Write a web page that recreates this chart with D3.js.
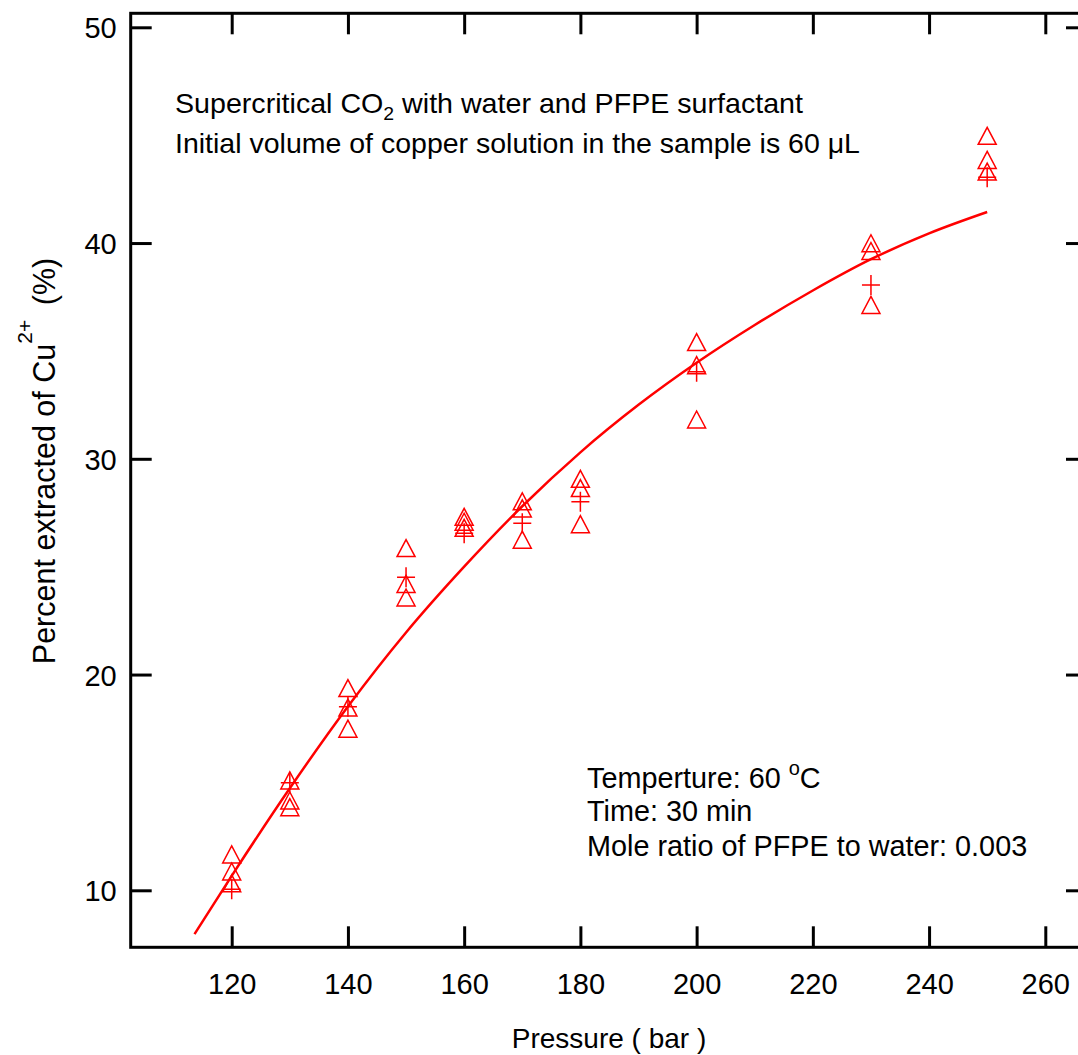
<!DOCTYPE html>
<html>
<head>
<meta charset="utf-8">
<script src="https://cdn.jsdelivr.net/npm/d3@7"></script>
<style>
    body { margin: 0; background: #fff; }
    svg { display: block; font-family: "Liberation Sans", Arial, sans-serif; }
</style>
</head>
<body>
<div id="chart"></div>
<script>
// measured pressures (bar)
var pressures = [120, 130, 140, 150, 160, 170, 180, 200, 230, 250];
// three repeat runs per pressure (triangles)
var runA = [11.53, 14.96, 19.24, 25.73, 27.18, 27.90, 28.94, 35.28, 39.86, 44.84];
var runB = [10.74, 14.03, 18.34, 24.07, 26.95, 27.57, 28.51, 34.21, 39.50, 43.72];
var runC = [10.19, 13.72, 17.36, 23.44, 26.67, 26.12, 26.84, 31.69, 37.00, 43.18];
// second marker set (plus)
var plusValues = [10.05, 14.99, 18.51, 24.51, 26.55, 27.01, 28.01, 34.04, 38.06, 43.05];
// fitted curve
var fitPressure = [113.6, 120, 130, 140, 150, 160, 170, 180, 190, 200, 210, 220, 230, 240, 250];
var fitValue = [7.97, 10.67, 14.73, 18.52, 21.95, 25.00, 27.80, 30.30, 32.50, 34.45, 36.20, 37.80, 39.25, 40.45, 41.44];

var xTicks = [120, 140, 160, 180, 200, 220, 240, 260];
var yTicks = [10, 20, 30, 40, 50];

function ExtractionChart(container){
    this.container = container;
    this.svg = null;
    this.width = 1078;
    this.height = 1055;
    this.frame = { left: 130.7, right: 1087, top: 13.3, bottom: 947.3 };
    this.axis = {};
    this.red = "#ff0000";
}

ExtractionChart.prototype = {
    constructor: ExtractionChart,

    triangle: function(){
        // apex up, centroid on the data point
        var h = 17, w = 18;
        return "M0," + (-2 * h / 3) + "L" + (w / 2) + "," + (h / 3) + "L" + (-w / 2) + "," + (h / 3) + "Z";
    },

    init: function(){
        var self = this, f = self.frame;

        self.axis.x = d3.scaleLinear().domain([120, 260]).range([231.7, 1045.3]);
        self.axis.y = d3.scaleLinear().domain([10, 50]).range([890.3, 27.3]);

        self.svg = d3.select(self.container).append("svg")
            .attr("width", self.width)
            .attr("height", self.height);

        // frame
        self.svg.append("rect")
            .attr("x", f.left).attr("y", f.top)
            .attr("width", f.right - f.left).attr("height", f.bottom - f.top)
            .attr("fill", "none").attr("stroke", "#000").attr("stroke-width", 3);

        var tickLen = 21;
        var xAxisB = d3.axisBottom(self.axis.x).tickValues(xTicks).tickSizeInner(-tickLen).tickSizeOuter(0).tickPadding(26);
        var xAxisT = d3.axisTop(self.axis.x).tickValues(xTicks).tickSizeInner(-tickLen).tickSizeOuter(0).tickFormat("");
        var yAxisL = d3.axisLeft(self.axis.y).tickValues(yTicks).tickSizeInner(-tickLen).tickSizeOuter(0).tickPadding(14);
        var yAxisR = d3.axisRight(self.axis.y).tickValues(yTicks).tickSizeInner(-tickLen).tickSizeOuter(0).tickFormat("");

        var gB = self.svg.append("g").attr("class", "x axis").attr("transform", "translate(0," + f.bottom + ")").call(xAxisB);
        var gT = self.svg.append("g").attr("class", "x axis").attr("transform", "translate(0," + f.top + ")").call(xAxisT);
        var gL = self.svg.append("g").attr("class", "y axis").attr("transform", "translate(" + f.left + ",0)").call(yAxisL);
        var gR = self.svg.append("g").attr("class", "y axis").attr("transform", "translate(" + f.right + ",0)").call(yAxisR);

        [gB, gT, gL, gR].forEach(function(g){
            g.select(".domain").remove();
            g.selectAll(".tick line").attr("stroke", "#000").attr("stroke-width", 3);
            g.selectAll(".tick text")
                .attr("fill", "#000")
                .style("font-family", "'Liberation Sans', Arial, sans-serif")
                .style("font-size", "29px");
        });
        gB.selectAll(".tick text").attr("dy", "0.71em");
        gL.selectAll(".tick text").attr("dy", "0.36em");

        // axis titles
        self.svg.append("text")
            .attr("x", 609).attr("y", 1048)
            .style("text-anchor", "middle")
            .style("font-size", "28px")
            .text("Pressure ( bar )");

        var yl = self.svg.append("text")
            .attr("transform", "translate(55,461) rotate(-90)")
            .style("text-anchor", "middle")
            .style("font-size", "30.5px");
        yl.append("tspan").text("Percent extracted of Cu");
        yl.append("tspan").attr("dy", -23).style("font-size", "21px").text("2+");
        yl.append("tspan").attr("dy", 23).text("\u2009 (%)");

        // fitted curve
        var fit = fitPressure.map(function(p, i){ return { p: p, v: fitValue[i] }; });
        var line = d3.line()
            .x(function(d){ return self.axis.x(d.p); })
            .y(function(d){ return self.axis.y(d.v); })
            .curve(d3.curveMonotoneX);
        self.svg.append("path")
            .datum(fit)
            .attr("d", line)
            .attr("fill", "none")
            .attr("stroke", self.red)
            .attr("stroke-width", 2.5);

        // triangles
        var tri = [];
        [runA, runB, runC].forEach(function(run){
            run.forEach(function(v, i){ tri.push({ p: pressures[i], v: v }); });
        });
        self.svg.selectAll(".tri")
            .data(tri)
            .enter().append("path")
            .attr("class", "tri")
            .attr("d", self.triangle())
            .attr("transform", function(d){ return "translate(" + self.axis.x(d.p) + "," + self.axis.y(d.v) + ")"; })
            .attr("fill", "none")
            .attr("stroke", self.red)
            .attr("stroke-width", 1.5);

        // pluses
        self.svg.selectAll(".plus")
            .data(plusValues)
            .enter().append("path")
            .attr("class", "plus")
            .attr("d", "M-9,0H9M0,-10V10")
            .attr("transform", function(d, i){ return "translate(" + self.axis.x(pressures[i]) + "," + self.axis.y(d) + ")"; })
            .attr("fill", "none")
            .attr("stroke", self.red)
            .attr("stroke-width", 1.5);

        // notes, top left
        var n1 = self.svg.append("text")
            .attr("x", 175).attr("y", 113)
            .attr("textLength", 628).attr("lengthAdjust", "spacingAndGlyphs")
            .style("font-size", "28px");
        n1.append("tspan").text("Supercritical CO");
        n1.append("tspan").attr("dy", 7).style("font-size", "19px").text("2");
        n1.append("tspan").attr("dy", -7).text(" with water and PFPE surfactant");

        var n2 = self.svg.append("text")
            .attr("x", 175).attr("y", 153)
            .attr("textLength", 685).attr("lengthAdjust", "spacingAndGlyphs")
            .style("font-size", "28px");
        n2.append("tspan").text("Initial volume of copper solution in the sample is 60 ");
        n2.append("tspan").text("\u03bcL");

        // notes, bottom right
        var n3 = self.svg.append("text")
            .attr("x", 587).attr("y", 788)
            .style("font-size", "28.8px");
        n3.append("tspan").text("Temperture: 60 ");
        n3.append("tspan").attr("dy", -13).style("font-size", "20px").text("o");
        n3.append("tspan").attr("dy", 13).text("C");

        self.svg.append("text")
            .attr("x", 587).attr("y", 821)
            .style("font-size", "28.8px")
            .text("Time: 30 min");

        self.svg.append("text")
            .attr("x", 587).attr("y", 856)
            .style("font-size", "28.8px")
            .text("Mole ratio of PFPE to water: 0.003");
    }
};

var chart = new ExtractionChart("#chart");
chart.init();
</script>
</body>
</html>
